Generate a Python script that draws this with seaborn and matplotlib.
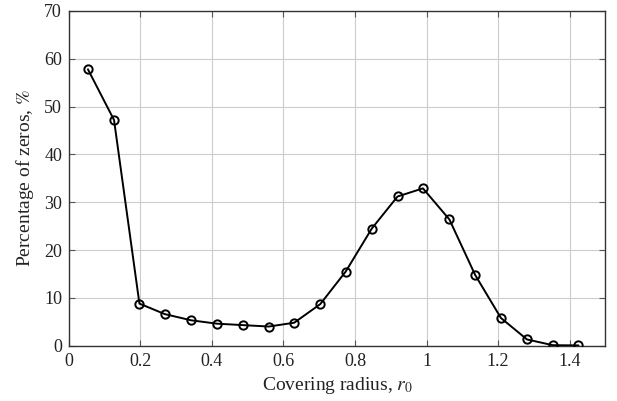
import matplotlib
matplotlib.use("Agg")
import matplotlib.pyplot as plt
import seaborn as sns
import pandas as pd

radius = [0.053, 0.126, 0.197, 0.268, 0.342, 0.414, 0.486, 0.559, 0.630, 0.703,
          0.774, 0.847, 0.919, 0.990, 1.064, 1.136, 1.208, 1.281, 1.353, 1.425]
zeros_pct = [57.8, 47.2, 8.8, 6.6, 5.3, 4.6, 4.3, 4.0, 4.8, 8.7,
             15.5, 24.5, 31.2, 32.9, 26.4, 14.8, 5.8, 1.3, 0.1, 0.05]
xticks = [0, 0.2, 0.4, 0.6, 0.8, 1.0, 1.2, 1.4]
xticklabels = ["0", "0.2", "0.4", "0.6", "0.8", "1", "1.2", "1.4"]
yticks = [0, 10, 20, 30, 40, 50, 60, 70]

sns.set_theme(style="whitegrid")
plt.rcParams["font.family"] = ["Liberation Serif", "DejaVu Serif"]
plt.rcParams["mathtext.fontset"] = "stix"

df = pd.DataFrame({"r": radius, "z": zeros_pct})

fig = plt.figure(figsize=(6.17, 4.01), dpi=100)
ax = fig.add_axes([0.1118, 0.138, 0.981 - 0.1118, 0.9726 - 0.138])

sns.lineplot(data=df, x="r", y="z", ax=ax, color="black", linewidth=1.4,
             marker="o", markersize=6, markerfacecolor="none",
             markeredgecolor="black", markeredgewidth=1.4, zorder=3)

ax.set_xlim(0, 1.5)
ax.set_ylim(0, 70)
ax.set_xticks(xticks)
ax.set_xticklabels(xticklabels)
ax.set_yticks(yticks)
ax.grid(True, color="#cccccc", linewidth=0.8)
for s in ax.spines.values():
    s.set_color("#333333")
    s.set_linewidth(1.0)
ax.tick_params(direction="in", length=4, width=0.8, colors="#555555",
               labelcolor="#222222", labelsize=13, top=True, right=True,
               bottom=True, left=True, pad=5)
ax.set_xlabel("Covering radius, $r_0$", fontsize=14, color="#222222", labelpad=4)
ax.set_ylabel("Percentage of zeros, $\\%$", fontsize=14, color="#222222", labelpad=6)
ax.set_facecolor("white")

fig.savefig("out.png", dpi=100)
